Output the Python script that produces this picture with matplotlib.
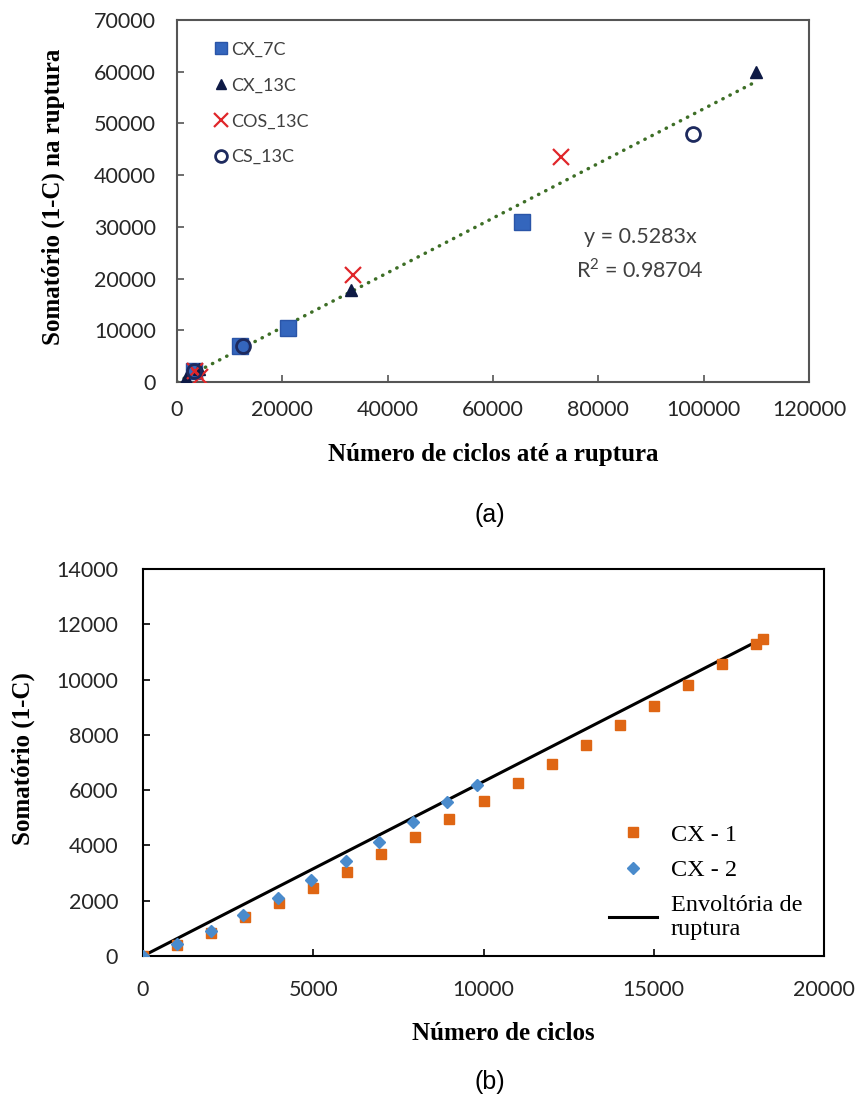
import numpy as np
import matplotlib
matplotlib.use("Agg")
import matplotlib.pyplot as plt

W, H = 861, 1099

# (a) ruptura por ensaio
cx7c_x = [3300, 12000, 21000, 65500]
cx7c_y = [2200, 7000, 10500, 31000]
cx13c_x = [1800, 4200, 33000, 110000]
cx13c_y = [800, 2600, 17800, 60000]
cos13c_x = [3400, 4400, 33500, 73000]
cos13c_y = [2100, 900, 20700, 43500]
cs13c_x = [3300, 12500, 98000]
cs13c_y = [2200, 7000, 48000]
slope = 0.5283
r2 = 0.98704

# (b) evolucao do somatorio
cx1_x = [0, 1000, 2000, 3000, 4000, 5000, 6000, 7000, 8000, 9000, 10000,
         11000, 12000, 13000, 14000, 15000, 16000, 17000, 18000, 18200]
cx1_y = [0, 400, 850, 1400, 1900, 2450, 3050, 3700, 4300, 4950, 5600,
         6250, 6950, 7650, 8350, 9050, 9800, 10550, 11280, 11450]
cx2_x = [0, 1000, 2000, 2950, 3970, 4940, 5970, 6940, 7940, 8940, 9800]
cx2_y = [0, 430, 900, 1480, 2100, 2740, 3430, 4110, 4830, 5560, 6180]
env_x = [0, 17900]
env_y = [0, 11300]

tick_font = "Lato"
label_font = "Liberation Serif"
plt.rcParams["mathtext.fontset"] = "custom"
plt.rcParams["mathtext.rm"] = tick_font


def box(l, t, r, b):
    return [l / W, 1 - b / H, (r - l) / W, (b - t) / H]


def style_axes(ax, spine_color):
    for s in ax.spines.values():
        s.set_color(spine_color)
        s.set_linewidth(1.5)
    ax.tick_params(direction="in", length=5, width=1.2, colors=spine_color,
                   labelcolor="#262626", labelsize=15.5)
    ax.tick_params(axis="y", pad=15)
    ax.tick_params(axis="x", pad=17)
    for lab in ax.get_xticklabels() + ax.get_yticklabels():
        lab.set_fontfamily(tick_font)


fig = plt.figure(figsize=(W / 100, H / 100), dpi=100)

# ---------- (a) ----------
ax1 = fig.add_axes(box(177, 20, 809, 382))
ax1.plot(cx7c_x, cx7c_y, "s", ms=11, color="#3466bd", mec="#2a55a8",
         label="CX_7C", zorder=3)
ax1.plot(cx13c_x, cx13c_y, "^", ms=9, color="#0e1a45", label="CX_13C", zorder=4)
ax1.plot(cos13c_x, cos13c_y, "x", ms=12, mew=1.6, color="#e0262a",
         label="COS_13C", zorder=5)
ax1.plot(cs13c_x, cs13c_y, "o", ms=10, mfc="none", mew=2, mec="#1d2a5e",
         label="CS_13C", zorder=6)
tx = np.array([0, max(cx13c_x)])
ax1.plot(tx, slope * tx, color="#3d6e26", lw=2.5, ls=(0, (0.1, 2.2)),
         dash_capstyle="round", zorder=2)
ax1.set_xlim(0, 120000)
ax1.set_ylim(0, 70000)
ax1.set_xticks(np.arange(0, 120001, 20000))
ax1.set_yticks(np.arange(0, 70001, 10000))
style_axes(ax1, "#555555")
ax1.tick_params(axis="x", pad=13)
leg1 = ax1.legend(loc="upper left", bbox_to_anchor=(0.035, 0.985), frameon=False,
                  prop={"family": tick_font, "size": 13}, markerscale=0.85,
                  handlelength=0.6, handletextpad=0.3, labelspacing=1.1)
for t in leg1.get_texts():
    t.set_color("#404040")
ax1.text(0.733, 0.353, f"y = {slope}x\nR$^{{2}}$ = {r2}", transform=ax1.transAxes,
         ha="center", va="center", family=tick_font, fontsize=15.5,
         color="#404040", linespacing=1.5)

fig.text(53 / W, 1 - 197 / H, "Somatório (1-C) na ruptura", rotation=90,
         ha="center", va="center", family=label_font, weight="bold", fontsize=18)
fig.text(493 / W, 1 - 455 / H, "Número de ciclos até a ruptura",
         ha="center", va="center", family=label_font, weight="bold", fontsize=18)
fig.text(490 / W, 1 - 515 / H, "(a)", ha="center", va="center",
         family=["Liberation Sans Narrow", "Liberation Sans"], fontsize=18)

# ---------- (b) ----------
ax2 = fig.add_axes(box(143, 569, 824, 956))
ax2.plot(env_x, env_y, color="black", lw=2.2, label="Envoltória de\nruptura",
         zorder=2)
ax2.plot(cx1_x, cx1_y, "s", ms=6.5, color="#df6614", label="CX - 1", zorder=3)
ax2.plot(cx2_x, cx2_y, "D", ms=6, color="#4a8bcc", label="CX - 2", zorder=4)
ax2.set_xlim(0, 20000)
ax2.set_ylim(0, 14000)
ax2.set_xticks(np.arange(0, 20001, 5000))
ax2.set_yticks(np.arange(0, 14001, 2000))
style_axes(ax2, "black")
ax2.tick_params(axis="y", pad=18)
h, l = ax2.get_legend_handles_labels()
ax2.legend([h[1], h[2], h[0]], [l[1], l[2], l[0]], loc="lower right",
           bbox_to_anchor=(1.0, -0.015), frameon=False,
           prop={"family": label_font, "size": 17.5}, handlelength=2.0,
           handletextpad=0.55, labelspacing=0.55)

fig.text(23 / W, 1 - 759 / H, "Somatório (1-C)", rotation=90,
         ha="center", va="center", family=label_font, weight="bold", fontsize=18)
fig.text(503 / W, 1 - 1033 / H, "Número de ciclos",
         ha="center", va="center", family=label_font, weight="bold", fontsize=18)
fig.text(490 / W, 1 - 1082 / H, "(b)", ha="center", va="center",
         family=["Liberation Sans Narrow", "Liberation Sans"], fontsize=18)

fig.savefig("out.png", dpi=100)
